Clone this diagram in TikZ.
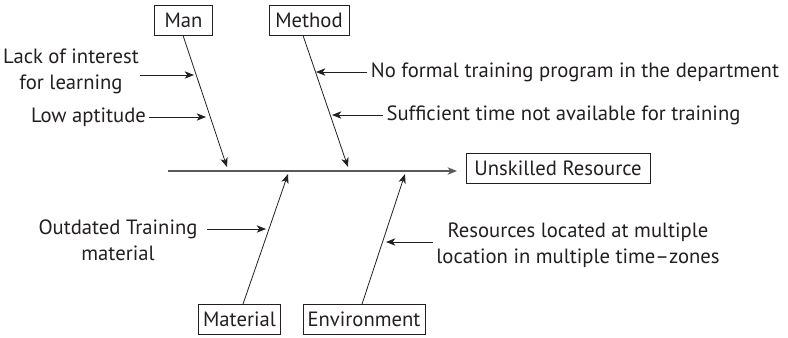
\documentclass[tikz,border=0pt]{standalone}
\usepackage{fontspec}
\setmainfont{PT Sans}
\usetikzlibrary{arrows.meta,calc}
\definecolor{ink}{HTML}{231F20}
\definecolor{spine}{HTML}{58595B}
\begin{document}
\begin{tikzpicture}[x=0.75pt,y=-0.75pt,
  every node/.style={font=\fontsize{15.5}{19.5}\selectfont, text=ink},
  catbox/.style={draw=ink, line width=0.6pt, inner sep=0pt, minimum height=22.5pt},
  cause/.style={align=center, inner sep=1pt},
  bone/.style={draw=ink, line width=0.6pt, -{Stealth[length=7pt,width=5.5pt,inset=2pt]}},
  twig/.style={draw=ink, line width=0.6pt, -{Stealth[length=7pt,width=5.5pt,inset=2pt]}}]
\useasboundingbox (0,0) rectangle (788,337);

% effect and main spine
\node[catbox, minimum width=138pt] (effect) at (558,168.5) {Unskilled Resource};
\coordinate (tail) at (168,171);
\draw[draw=spine, line width=1.1pt, -{Stealth[length=7pt,width=5.5pt,inset=2pt]}] (tail) -- (457,171);

% category boxes
\node[catbox, minimum width=44pt] (man) at (183.5,20) {Man};
\node[catbox, minimum width=60pt] (method) at (309,20) {Method};
\node[catbox, minimum width=62pt] (material) at (239.5,319.5) {Material};
\node[catbox, minimum width=91.5pt] (environment) at (364,319.5) {Environment};

% where the bones meet the spine
\coordinate (manend) at (227,167);
\coordinate (methodend) at (348,167);
\coordinate (materialend) at (288,174);
\coordinate (environmentend) at (405,174);

\draw[bone] (man.south -| 183,0) -- (manend);
\draw[bone] (method.south -| 303,0) -- (methodend);
\draw[bone] (material.north -| 243,0) -- (materialend);
\draw[bone] (environment.north -| 362,0) -- (environmentend);

% causes
\node[cause] (lack) at (71,71.5) {Lack of interest\\for learning};
\node[cause] (low) at (88.5,117) {Low aptitude};
\node[cause] (noformal) at (575,72) {No formal training program in the department};
\node[cause] (notime) at (563.5,115) {Sufficient time not available for training};
\node[cause] (outdated) at (118,240.5) {Outdated Training\\material};
\node[cause] (remote) at (578,245.5) {Resources located at multiple\\location in multiple time--zones};

\coordinate (c1) at (194,75);
\coordinate (c2) at (206,117);
\coordinate (c3) at (316,72);
\coordinate (c4) at (332,115);
\coordinate (c5) at (266,229);
\coordinate (c6) at (386,242);

\draw[twig] (137,75 -| lack.east) -- (c1);
\draw[twig] (low.east) ++(2,0) -- (c2);
\draw[twig] (noformal.west) ++(-2,0) -- (c3);
\draw[twig] (notime.west) ++(-2,0) -- (c4);
\draw[twig] (outdated.east |- c5) ++(8,0) -- (c5);
\draw[twig] (remote.west |- c6) ++(-2,0) -- (c6);
\end{tikzpicture}
\end{document}
